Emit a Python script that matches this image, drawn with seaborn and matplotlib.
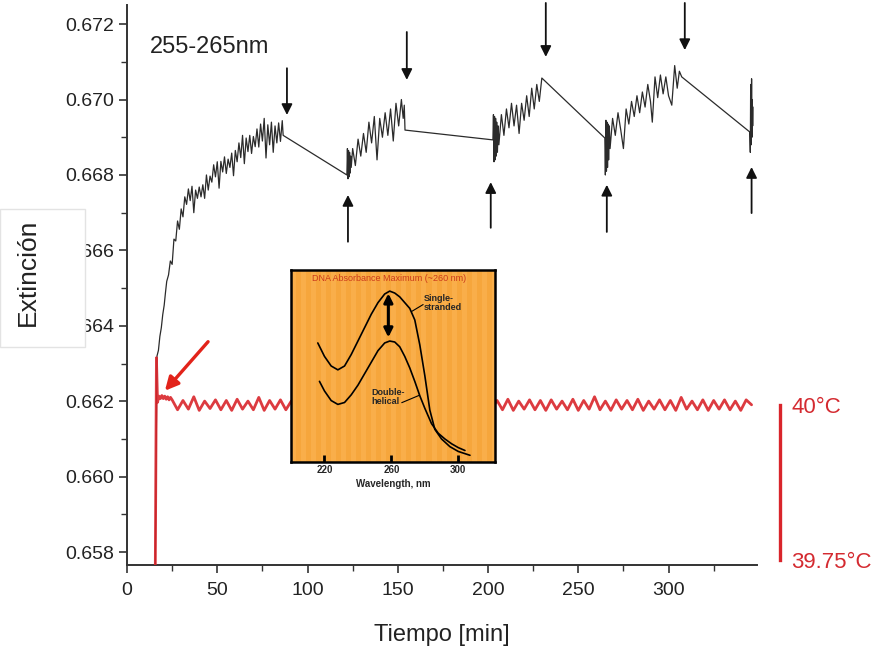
import matplotlib
matplotlib.use("Agg")
import matplotlib.pyplot as plt
import seaborn as sns
from matplotlib.patches import Rectangle

# ---------------- data ----------------
rise_t = [15.6, 16.6, 17.4, 18.2, 19.0, 19.8, 20.6, 21.3]
rise_v = [0.65740, 0.66320, 0.66335, 0.66372, 0.66395, 0.66430, 0.66455, 0.66488]

seg1_t = [22, 23, 24, 25, 26, 27, 28, 29, 30, 31, 32, 33, 34, 35, 36, 37, 38, 39, 40, 41,
          42, 43, 44, 45, 46, 47, 48, 49, 50, 51, 52, 53, 54, 55, 56, 57, 58, 59, 60, 61,
          62, 63, 64, 65, 66, 67, 68, 69, 70, 71, 72, 73, 74, 75, 76, 77, 78, 79, 80, 81,
          82, 83, 84, 85, 86, 86.5]
seg1_v = [0.66518, 0.66535, 0.66572, 0.66563, 0.66630, 0.66625, 0.66678, 0.66656, 0.66710, 0.66689,
          0.66742, 0.66722, 0.66763, 0.66732, 0.66770, 0.66700, 0.66760, 0.66738, 0.66768, 0.66742,
          0.66774, 0.66738, 0.66800, 0.66760, 0.66797, 0.66781, 0.66827, 0.66795, 0.66835, 0.66765,
          0.66836, 0.66808, 0.66848, 0.66804, 0.66842, 0.66820, 0.66858, 0.66798, 0.66865, 0.66835,
          0.66885, 0.66846, 0.66905, 0.66830, 0.66898, 0.66862, 0.66905, 0.66857, 0.66902, 0.66875,
          0.66922, 0.66874, 0.66935, 0.66890, 0.66950, 0.66845, 0.66933, 0.66880, 0.66940, 0.66860,
          0.66930, 0.66885, 0.66938, 0.66889, 0.66944, 0.66905]

seg2_t = [121.8, 122.1, 122.4, 122.7, 123.0, 123.3, 123.6, 123.9, 124.2,
          125.0, 126.5, 128.0, 129.5, 131.0, 132.5, 134.0, 135.5, 137.0, 138.5,
          140.0, 141.5, 143.0, 144.5, 146.0, 147.5, 149.0, 150.5, 152.0,
          153.0, 153.6, 154.0]
seg2_v = [0.66800, 0.66870, 0.66790, 0.66865, 0.66795, 0.66860, 0.66805, 0.66850, 0.66820,
          0.66870, 0.66825, 0.66895, 0.66850, 0.66910, 0.66860, 0.66940, 0.66885, 0.66955, 0.66840,
          0.66950, 0.66900, 0.66965, 0.66905, 0.66975, 0.66890, 0.66990, 0.66930, 0.67000,
          0.66950, 0.66985, 0.66919]

seg3_t = [202.7, 203.0, 203.3, 203.6, 203.9, 204.2, 204.5, 204.8, 205.2, 205.6, 206.0,
          207.4, 208.8, 210.2, 211.6, 213.0, 214.4, 215.8, 217.2, 218.6, 220.0,
          221.4, 222.8, 224.2, 225.6, 227.0, 228.4, 229.8]
seg3_v = [0.66893, 0.66960, 0.66835, 0.66955, 0.66840, 0.66950, 0.66850, 0.66940, 0.66860, 0.66930, 0.66880,
          0.66960, 0.66905, 0.66975, 0.66925, 0.66990, 0.66930, 0.66985, 0.66910, 0.66990, 0.66945,
          0.67010, 0.66955, 0.67030, 0.66975, 0.67040, 0.66995, 0.67057]

seg4_t = [264.7, 265.0, 265.3, 265.6, 265.9, 266.2, 266.5, 266.8, 267.2, 267.6,
          269.0, 270.5, 272.0, 273.5, 275.0, 276.5, 278.0, 279.5, 281.0, 282.5,
          284.0, 285.5, 287.0, 288.5, 290.0, 291.0, 292.5, 294.0, 295.5, 297.0,
          298.5, 300.0, 301.8, 303.4, 304.8, 306.0, 307.3]
seg4_v = [0.66898, 0.66800, 0.66945, 0.66810, 0.66940, 0.66820, 0.66935, 0.66840, 0.66930, 0.66870,
          0.66950, 0.66905, 0.66965, 0.66920, 0.66870, 0.66975, 0.66935, 0.66995, 0.66955, 0.67010,
          0.66965, 0.67020, 0.66980, 0.67040, 0.66995, 0.66940, 0.67060, 0.67005, 0.67065, 0.67015,
          0.67060, 0.67010, 0.66985, 0.67090, 0.67030, 0.67075, 0.67060]

seg5_t = [345.0, 345.3, 345.5, 345.8, 346.0, 346.2, 346.4, 346.6, 346.8]
seg5_v = [0.66914, 0.66860, 0.67040, 0.66880, 0.67055, 0.66900, 0.67000, 0.66930, 0.66980]

# temperature trace (deg C)
temp_start_t = [14.4, 15.6, 16.3, 16.9, 17.7, 18.5, 19.3, 20.1, 20.9, 21.7, 22.5, 23.3, 24.1]
temp_start_T = [39.70, 39.70, 40.076, 40.004, 40.014, 40.010, 40.015, 40.010, 40.014, 40.009,
                40.013, 40.008, 40.012]
temp_band_t = [25, 28, 31, 34, 37, 40, 43, 46, 49, 52,
               55, 58, 61, 64, 67, 70, 73, 76, 79, 82,
               85, 88, 91, 94, 97, 100, 103, 106, 109, 112,
               115, 118, 121, 124, 127, 130, 133, 136, 139, 142,
               145, 148, 151, 154, 157, 160, 163, 166, 169, 172,
               175, 178, 181, 184, 187, 190, 193, 196, 199, 202,
               205, 208, 211, 214, 217, 220, 223, 226, 229, 232,
               235, 238, 241, 244, 247, 250, 253, 256, 259, 262,
               265, 268, 271, 274, 277, 280, 283, 286, 289, 292,
               295, 298, 301, 304, 307, 310, 313, 316, 319, 322,
               325, 328, 331, 334, 337, 340, 343, 346]
temp_band_T = [40.008, 39.992, 40.007, 39.993, 40.013, 39.991, 40.006, 39.994, 40.008, 39.992,
               40.007, 39.991, 40.009, 39.993, 40.006, 39.992, 40.012, 39.991, 40.007, 39.993,
               40.008, 39.992, 40.006, 39.991, 40.009, 39.993, 40.007, 39.992, 40.008, 39.994,
               40.006, 39.991, 40.008, 39.992, 40.013, 39.993, 40.007, 39.991, 40.008, 39.992,
               40.006, 39.993, 40.009, 39.992, 40.007, 39.991, 40.008, 39.993, 40.006, 39.992,
               40.008, 39.991, 40.007, 39.993, 40.012, 39.992, 40.006, 39.991, 40.008, 39.993,
               40.007, 39.992, 40.009, 39.991, 40.006, 39.993, 40.008, 39.992, 40.007, 39.991,
               40.008, 39.993, 40.006, 39.992, 40.009, 39.991, 40.007, 39.993, 40.013, 39.992,
               40.006, 39.991, 40.008, 39.993, 40.007, 39.992, 40.009, 39.991, 40.006, 39.993,
               40.008, 39.992, 40.007, 39.991, 40.012, 39.993, 40.006, 39.992, 40.008, 39.991,
               40.007, 39.993, 40.008, 39.992, 40.006, 39.991, 40.008, 40.000]

# arrows marking changes (time, tail, head)
down_t = [88.6, 155.0, 232.0, 309.0]
down_tail = [0.67083, 0.67179, 0.67256, 0.67256]
down_head = [0.66959, 0.67052, 0.67113, 0.67131]
up_t = [122.4, 201.5, 265.8, 346.0]
up_tail = [0.66623, 0.66660, 0.66649, 0.66699]
up_head = [0.66747, 0.66781, 0.66774, 0.66821]

x_ticks = [0, 50, 100, 150, 200, 250, 300]
y_ticks = [0.658, 0.660, 0.662, 0.664, 0.666, 0.668, 0.670, 0.672]
y_tick_labels = ["0.658", "0.660", "0.662", "0.664", "0.666", "0.668", "0.670", "0.672"]

# inset: DNA absorbance spectra
ss_wl = [216, 220, 224, 228, 232, 236, 240, 244, 248, 252, 256, 259, 262, 265, 268, 271,
         274, 277, 280, 283, 286, 290, 295, 300, 307]
ss_abs = [0.62, 0.55, 0.50, 0.48, 0.50, 0.56, 0.63, 0.70, 0.77, 0.83, 0.875, 0.89, 0.88,
          0.86, 0.83, 0.80, 0.74, 0.61, 0.45, 0.27, 0.17, 0.12, 0.08, 0.055, 0.035]
ds_wl = [217, 220, 224, 228, 232, 236, 240, 244, 248, 252, 256, 259, 262, 265, 268, 271,
         274, 277, 280, 284, 288, 292, 296, 300, 304]
ds_abs = [0.42, 0.37, 0.32, 0.30, 0.31, 0.35, 0.40, 0.46, 0.52, 0.58, 0.62, 0.63, 0.625,
          0.60, 0.55, 0.49, 0.42, 0.345, 0.28, 0.20, 0.15, 0.12, 0.095, 0.075, 0.06]
inset_ticks = [220, 260, 300]

# ---------------- figure ----------------
sns.set_theme(style="ticks")
plt.rcParams["font.family"] = ["Liberation Sans", "DejaVu Sans"]

fig = plt.figure(figsize=(8.79, 6.52), dpi=100)
ax = fig.add_axes([0.1445, 0.1334, 0.7167, 0.8586])

ext_t = rise_t + seg1_t + seg2_t + seg3_t + seg4_t + seg5_t
ext_v = rise_v + seg1_v + seg2_v + seg3_v + seg4_v + seg5_v
sns.lineplot(x=ext_t, y=ext_v, sort=False, estimator=None, color="#2b2b2b",
             lw=0.9, ax=ax)

Y_LO, Y_HI = 0.65766, 0.6725
ax.set_xlim(0, 349)
ax.set_ylim(Y_LO, Y_HI)
ax.set_xticks(x_ticks)
ax.set_xticks([25, 75, 125, 175, 225, 275, 325], minor=True)
ax.set_yticks(y_ticks)
ax.set_yticklabels(y_tick_labels)
ax.set_yticks([0.659, 0.661, 0.663, 0.665, 0.667, 0.669, 0.671], minor=True)
ax.tick_params(which="major", direction="out", length=6, width=1.2, color="#333333",
               labelsize=14, labelcolor="#222222", pad=3)
ax.tick_params(axis="x", which="major", pad=6)
ax.tick_params(which="minor", direction="out", length=4, width=1.0, color="#333333")
for s in ["top", "right"]:
    ax.spines[s].set_visible(False)
for s in ["left", "bottom"]:
    ax.spines[s].set_linewidth(1.4)
    ax.spines[s].set_color("#333333")
ax.set_xlabel("Tiempo [min]", fontsize=17, color="#222222")
ax.xaxis.set_label_coords(0.5, -0.105)
ax.set_ylabel("")

ax.text(0.0365, 0.925, "255-265nm", transform=ax.transAxes, fontsize=17,
        ha="left", va="center", color="#222222")

for t, a, b in zip(down_t, down_tail, down_head):
    ax.annotate("", xy=(t, b), xytext=(t, a), annotation_clip=False,
                arrowprops=dict(arrowstyle="-|>", color="#111111", lw=1.3,
                                mutation_scale=16, shrinkA=0, shrinkB=0))
for t, a, b in zip(up_t, up_tail, up_head):
    ax.annotate("", xy=(t, b), xytext=(t, a), annotation_clip=False,
                arrowprops=dict(arrowstyle="-|>", color="#111111", lw=1.3,
                                mutation_scale=16, shrinkA=0, shrinkB=0))

# red pointer arrow
ax.annotate("", xy=(21.0, 0.66228), xytext=(44.9, 0.66358),
            arrowprops=dict(arrowstyle="-|>", color="#e2231a", lw=2.4,
                            mutation_scale=20, shrinkA=0, shrinkB=0))

# temperature on twin axis
EXT_40 = 0.661907
EXT_PER_DEG = 0.004106 / 0.25
ax2 = ax.twinx()
ax2.set_ylim(40 + (Y_LO - EXT_40) / EXT_PER_DEG, 40 + (Y_HI - EXT_40) / EXT_PER_DEG)
sns.lineplot(x=temp_start_t + temp_band_t, y=temp_start_T + temp_band_T, sort=False,
             estimator=None, color="#d9252b", lw=2.0, alpha=0.9, ax=ax2)
ax2.set_xlim(0, 349)
for s in ["top", "left", "bottom"]:
    ax2.spines[s].set_visible(False)
ax2.spines["right"].set_position(("axes", 1.0365))
ax2.spines["right"].set_bounds(39.75, 40.0)
ax2.spines["right"].set_color("#d9252b")
ax2.spines["right"].set_linewidth(2.4)
ax2.set_yticks([39.75, 40.0])
ax2.set_yticklabels(["39.75°C", "40°C"])
ax2.tick_params(axis="y", length=0, pad=8, labelsize=16, labelcolor="#d42a30")
ax2.set_ylabel("")
ax2.grid(False)

# white box with y label
fig.patches.append(Rectangle((0.0, 0.4678), 0.0967, 0.2117, transform=fig.transFigure,
                             facecolor="white", edgecolor="#e3e3e3", lw=1.0, zorder=1))
fig.text(0.0319, 0.583, "Extinción", rotation=90, fontsize=19, ha="center", va="center",
         color="#222222", zorder=2)

# inset
ax_in = fig.add_axes([0.3311, 0.2914, 0.2321, 0.2945])
ax_in.set_facecolor("#F6A63C")
for x0 in range(200, 322, 6):
    ax_in.axvspan(x0, x0 + 3, color="#F9AE4A", lw=0, zorder=0)
sns.lineplot(x=ss_wl, y=ss_abs, sort=False, estimator=None, color="black", lw=1.2, ax=ax_in)
sns.lineplot(x=ds_wl, y=ds_abs, sort=False, estimator=None, color="black", lw=1.2, ax=ax_in)
ax_in.set_xlim(200, 322)
ax_in.set_ylim(0, 1)
ax_in.set_xticks(inset_ticks)
ax_in.set_xticklabels([str(v) for v in inset_ticks], fontweight="bold")
ax_in.set_yticks([])
ax_in.tick_params(axis="x", direction="in", length=5, width=2, pad=2, labelsize=7,
                  color="black")
for s in ax_in.spines.values():
    s.set_visible(True)
    s.set_color("black")
    s.set_linewidth(1.8)
ax_in.set_xlabel("Wavelength, nm", fontsize=7, fontweight="bold", labelpad=3)
ax_in.set_ylabel("")
ax_in.text(0.48, 0.955, "DNA Absorbance Maximum (~260 nm)", transform=ax_in.transAxes,
           fontsize=6.5, ha="center", va="center", color="#cc3b1b")
ax_in.annotate("", xy=(258.2, 0.649), xytext=(258.2, 0.878),
               arrowprops=dict(arrowstyle="<|-|>", color="black", lw=2.2,
                               mutation_scale=13, shrinkA=0, shrinkB=0))
ax_in.text(279.5, 0.83, "Single-\nstranded", fontsize=6.5, fontweight="bold",
           ha="left", va="center", linespacing=1.0)
ax_in.plot([279.0, 272.3], [0.82, 0.785], color="black", lw=0.8)
ax_in.text(248.2, 0.34, "Double-\nhelical", fontsize=6.5, fontweight="bold",
           ha="left", va="center", linespacing=1.0)
ax_in.plot([266.2, 276.6], [0.309, 0.347], color="black", lw=0.8)

fig.savefig("out.png", dpi=100, facecolor="white")
